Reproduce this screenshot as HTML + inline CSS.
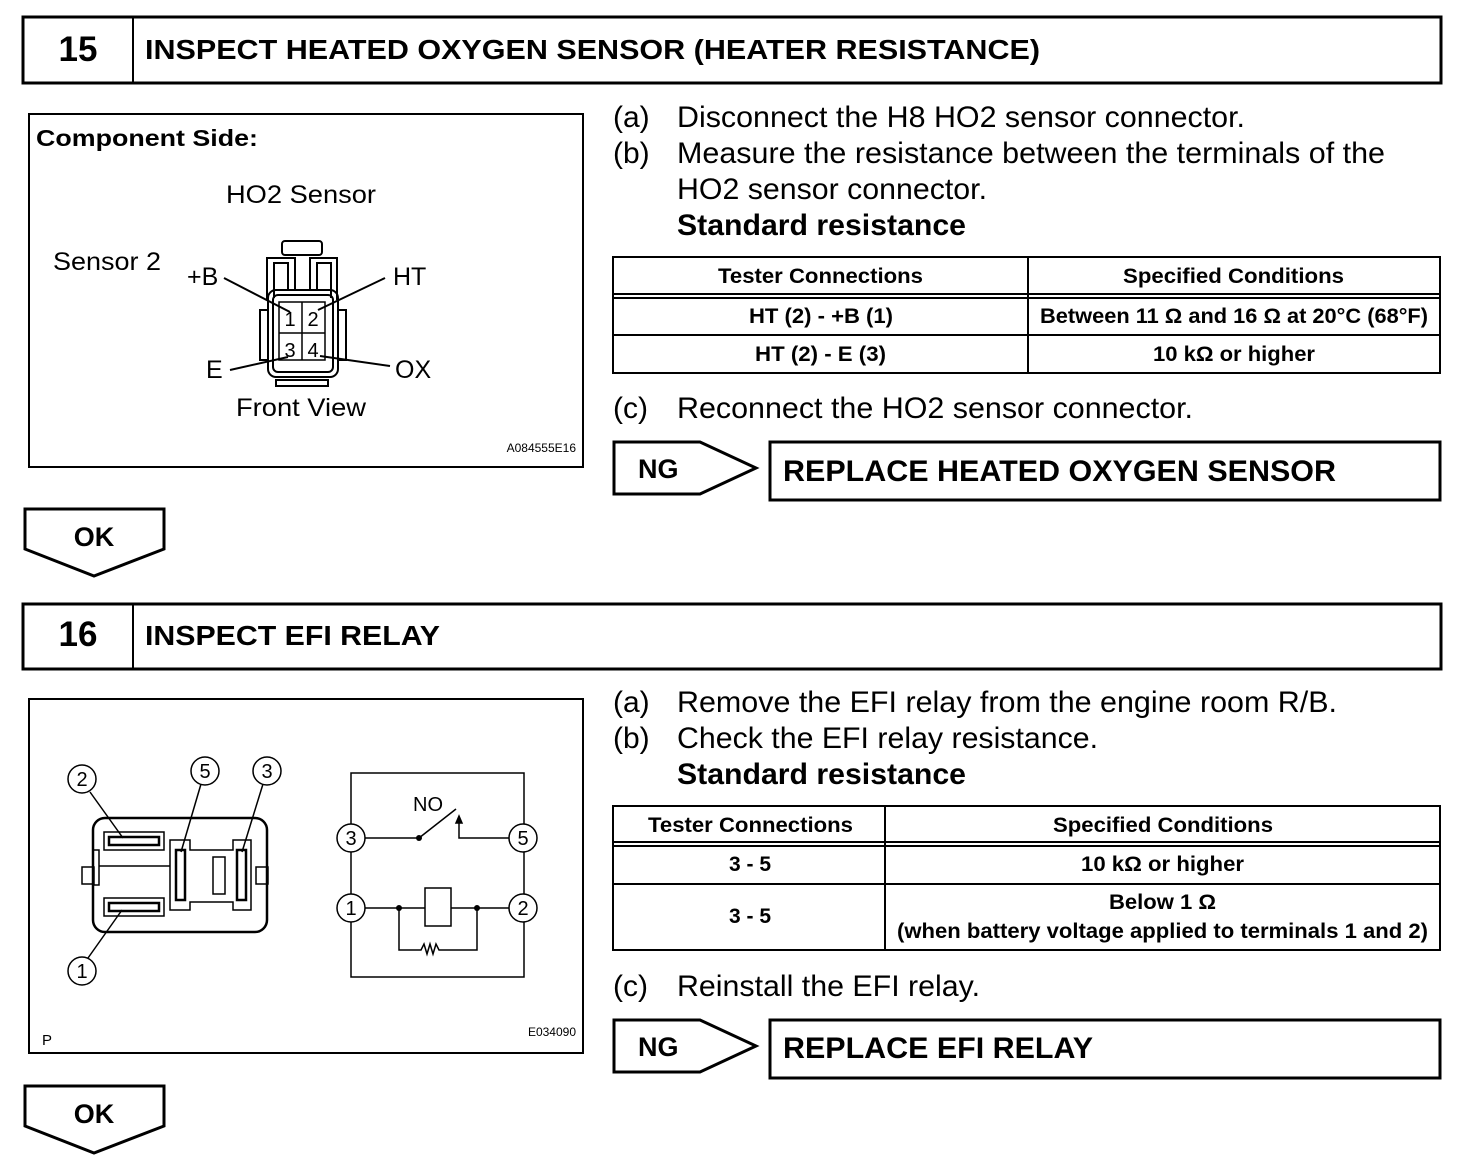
<!DOCTYPE html>
<html><head><style>
body{margin:0;background:#fff;}
svg{display:block;font-family:"Liberation Sans",Arial,sans-serif;}
</style></head><body>
<svg width="1472" height="1168" viewBox="0 0 1472 1168" xmlns="http://www.w3.org/2000/svg">
<g fill="none" stroke="#000">
<rect x="23" y="17" width="1418" height="66" stroke-width="3"/>
<line x1="133" y1="17" x2="133" y2="83" stroke-width="2"/>
<rect x="29" y="114" width="554" height="353" stroke-width="2"/>
<rect x="613" y="257" width="827" height="116" stroke-width="2"/>
<line x1="1028" y1="257" x2="1028" y2="373" stroke-width="2"/>
<line x1="613" y1="294" x2="1440" y2="294" stroke-width="2"/>
<line x1="613" y1="298" x2="1440" y2="298" stroke-width="2"/>
<line x1="613" y1="335" x2="1440" y2="335" stroke-width="2"/>
<polygon points="614,442 700,442 756,468 700,494 614,494" stroke-width="3"/>
<rect x="770" y="442" width="670" height="58" stroke-width="3"/>
<polygon points="25,509 164,509 164,549 94,576 25,549" stroke-width="3"/>
<rect x="23" y="604" width="1418" height="65" stroke-width="3"/>
<line x1="133" y1="604" x2="133" y2="669" stroke-width="2"/>
<rect x="29" y="699" width="554" height="354" stroke-width="2"/>
<rect x="613" y="806" width="827" height="144" stroke-width="2"/>
<line x1="885" y1="806" x2="885" y2="950" stroke-width="2"/>
<line x1="613" y1="842" x2="1440" y2="842" stroke-width="2"/>
<line x1="613" y1="846" x2="1440" y2="846" stroke-width="2"/>
<line x1="613" y1="884" x2="1440" y2="884" stroke-width="2"/>
<polygon points="614,1020 700,1020 756,1046 700,1072 614,1072" stroke-width="3"/>
<rect x="770" y="1020" width="670" height="58" stroke-width="3"/>
<polygon points="25,1086 164,1086 164,1126 94,1153 25,1126" stroke-width="3"/>

<g stroke-width="2">
<rect x="282" y="241" width="40" height="14" rx="3"/>
<path d="M267,300 V258 H295 V290 M310,290 V258 H337 V300"/>
<path d="M274,298 V263 H288 V290 M317,290 V263 H331 V298"/>
<rect x="268" y="290" width="70" height="87" rx="8"/>
<rect x="273" y="295" width="60" height="77" rx="5"/>
<rect x="260" y="310" width="8" height="50"/>
<rect x="338" y="310" width="8" height="50"/>
<rect x="276" y="380" width="52" height="6"/>
<rect x="279" y="302" width="46" height="58" stroke-width="1.5"/>
<line x1="302" y1="302" x2="302" y2="360" stroke-width="1.5"/>
<line x1="279" y1="333" x2="325" y2="333" stroke-width="1.5"/>
<line x1="224" y1="278" x2="290" y2="312"/>
<line x1="385" y1="278" x2="318" y2="310"/>
<line x1="230" y1="370" x2="288" y2="357"/>
<line x1="390" y1="366" x2="320" y2="356"/>
</g>

<g stroke-width="1.5">
<rect x="93" y="818" width="174" height="114" rx="12" stroke-width="2.5"/>
<rect x="104" y="832" width="60" height="18"/>
<rect x="109" y="837" width="50" height="8" stroke-width="2.5"/>
<rect x="104" y="898" width="60" height="18"/>
<rect x="109" y="903" width="50" height="8" stroke-width="2.5"/>
<rect x="82" y="867" width="12" height="17"/>
<rect x="256" y="867" width="12" height="17"/>
<rect x="93" y="850" width="6" height="35"/>
<path d="M99,866 H170 M170,840 V910 H190 V902 H233 V910 H251 V840 H233 V850 H190 V840 Z"/>
<rect x="176" y="850" width="9" height="50" stroke-width="2.5"/>
<rect x="237" y="850" width="9" height="50" stroke-width="2.5"/>
<rect x="213" y="857" width="12" height="37"/>
<line x1="90" y1="792" x2="123" y2="838"/>
<line x1="201" y1="784" x2="181" y2="852"/>
<line x1="263" y1="784" x2="242" y2="852"/>
<line x1="88" y1="958" x2="122" y2="910"/>
<circle cx="82" cy="779" r="14"/>
<circle cx="205" cy="771" r="14"/>
<circle cx="267" cy="771" r="14"/>
<circle cx="82" cy="971" r="14"/>
</g>
<g stroke-width="1.5">
<rect x="351" y="773" width="173" height="204"/>
<line x1="365" y1="838" x2="419" y2="838"/>
<line x1="419" y1="838" x2="456" y2="809"/>
<path d="M459,823 V838 H509"/>
<path d="M459,816 l-3,7 h6 z" fill="#000"/>
<line x1="365" y1="908" x2="509" y2="908"/>
<rect x="425" y="888" width="26" height="38" fill="#fff"/>
<path d="M399,908 V950 H421 l3,-6 l3,10 l3,-10 l3,10 l3,-10 l3,6 H477 V908"/>
<circle cx="351" cy="838" r="14" fill="#fff"/>
<circle cx="523" cy="838" r="14" fill="#fff"/>
<circle cx="351" cy="908" r="14" fill="#fff"/>
<circle cx="523" cy="908" r="14" fill="#fff"/>
</g>
</g>
<circle cx="419" cy="838" r="3"/>
<circle cx="399" cy="908" r="3"/>
<circle cx="477" cy="908" r="3"/>

<g fill="#000" lengthAdjust="spacingAndGlyphs">
<text x="78" y="61" font-size="35" font-weight="bold" text-anchor="middle">15</text>
<text x="145" y="59" font-size="28" font-weight="bold" textLength="895" lengthAdjust="spacingAndGlyphs">INSPECT HEATED OXYGEN SENSOR (HEATER RESISTANCE)</text>
<text x="36" y="146" font-size="23" font-weight="bold" textLength="222" lengthAdjust="spacingAndGlyphs">Component Side:</text>
<text x="226" y="203" font-size="25" textLength="150" lengthAdjust="spacingAndGlyphs">HO2 Sensor</text>
<text x="53" y="270" font-size="25" textLength="108" lengthAdjust="spacingAndGlyphs">Sensor 2</text>
<text x="187" y="285" font-size="25">+B</text>
<text x="393" y="285" font-size="25">HT</text>
<text x="206" y="378" font-size="25">E</text>
<text x="395" y="378" font-size="25">OX</text>
<text x="236" y="416" font-size="25" textLength="130" lengthAdjust="spacingAndGlyphs">Front View</text>
<g font-size="20" text-anchor="middle"><text x="290" y="326">1</text><text x="313" y="326">2</text><text x="290" y="357">3</text><text x="313" y="357">4</text></g>
<text x="576" y="452" font-size="12" text-anchor="end">A084555E16</text>

<g font-size="30">
<text x="613" y="127">(a)</text><text x="677" y="127" textLength="568" lengthAdjust="spacingAndGlyphs">Disconnect the H8 HO2 sensor connector.</text>
<text x="613" y="163">(b)</text><text x="677" y="163" textLength="708" lengthAdjust="spacingAndGlyphs">Measure the resistance between the terminals of the</text>
<text x="677" y="199" textLength="310" lengthAdjust="spacingAndGlyphs">HO2 sensor connector.</text>
<text x="677" y="235" font-weight="bold" textLength="289" lengthAdjust="spacingAndGlyphs">Standard resistance</text>
<text x="613" y="418">(c)</text><text x="677" y="418" textLength="516" lengthAdjust="spacingAndGlyphs">Reconnect the HO2 sensor connector.</text>
</g>
<g font-size="21" font-weight="bold">
<text x="718" y="283" textLength="205" lengthAdjust="spacingAndGlyphs">Tester Connections</text><text x="1123" y="283" textLength="221" lengthAdjust="spacingAndGlyphs">Specified Conditions</text>
<text x="749" y="323" textLength="144" lengthAdjust="spacingAndGlyphs">HT (2) - +B (1)</text><text x="1040" y="323" textLength="388" lengthAdjust="spacingAndGlyphs">Between 11 Ω and 16 Ω at 20°C (68°F)</text>
<text x="755" y="361" textLength="131" lengthAdjust="spacingAndGlyphs">HT (2) - E (3)</text><text x="1153" y="361" textLength="162" lengthAdjust="spacingAndGlyphs">10 kΩ or higher</text>
</g>
<text x="638" y="478" font-size="27" font-weight="bold">NG</text>
<text x="783" y="481" font-size="30" font-weight="bold" textLength="553" lengthAdjust="spacingAndGlyphs">REPLACE HEATED OXYGEN SENSOR</text>
<text x="94" y="546" font-size="27" font-weight="bold" text-anchor="middle">OK</text>

<text x="78" y="646" font-size="35" font-weight="bold" text-anchor="middle">16</text>
<text x="145" y="645" font-size="28" font-weight="bold" textLength="295" lengthAdjust="spacingAndGlyphs">INSPECT EFI RELAY</text>
<g font-size="20" text-anchor="middle">
<text x="82" y="786">2</text><text x="205" y="778">5</text><text x="267" y="778">3</text><text x="82" y="978">1</text>
<text x="351" y="845">3</text><text x="523" y="845">5</text><text x="351" y="915">1</text><text x="523" y="915">2</text>
</g>
<text x="428" y="811" font-size="20" text-anchor="middle">NO</text>
<text x="42" y="1045" font-size="15">P</text>
<text x="576" y="1036" font-size="12" text-anchor="end">E034090</text>

<g font-size="30">
<text x="613" y="712">(a)</text><text x="677" y="712" textLength="660" lengthAdjust="spacingAndGlyphs">Remove the EFI relay from the engine room R/B.</text>
<text x="613" y="748">(b)</text><text x="677" y="748" textLength="421" lengthAdjust="spacingAndGlyphs">Check the EFI relay resistance.</text>
<text x="677" y="784" font-weight="bold" textLength="289" lengthAdjust="spacingAndGlyphs">Standard resistance</text>
<text x="613" y="996">(c)</text><text x="677" y="996" textLength="303" lengthAdjust="spacingAndGlyphs">Reinstall the EFI relay.</text>
</g>
<g font-size="21" font-weight="bold">
<text x="648" y="832" textLength="205" lengthAdjust="spacingAndGlyphs">Tester Connections</text><text x="1053" y="832" textLength="220" lengthAdjust="spacingAndGlyphs">Specified Conditions</text>
<text x="750" y="871" text-anchor="middle">3 - 5</text><text x="1081" y="871" textLength="163" lengthAdjust="spacingAndGlyphs">10 kΩ or higher</text>
<text x="750" y="923" text-anchor="middle">3 - 5</text><text x="1109" y="909" textLength="107" lengthAdjust="spacingAndGlyphs">Below 1 Ω</text>
<text x="897" y="938" textLength="531" lengthAdjust="spacingAndGlyphs">(when battery voltage applied to terminals 1 and 2)</text>
</g>
<text x="638" y="1056" font-size="27" font-weight="bold">NG</text>
<text x="783" y="1058" font-size="30" font-weight="bold" textLength="310" lengthAdjust="spacingAndGlyphs">REPLACE EFI RELAY</text>
<text x="94" y="1123" font-size="27" font-weight="bold" text-anchor="middle">OK</text>
</g>
</svg>
</body></html>
